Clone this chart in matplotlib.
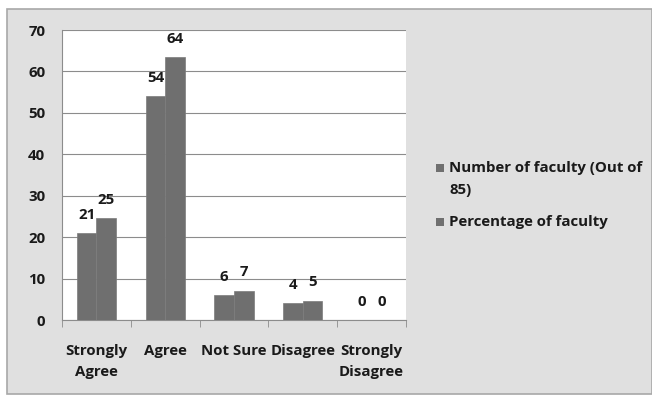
import matplotlib.pyplot as plt
import matplotlib.patches as mpatches
import numpy as np

categories = ['Strongly\nAgree', 'Agree', 'Not Sure', 'Disagree', 'Strongly\nDisagree']
faculty_count = [21, 54, 6, 4, 0]
faculty_pct = [24.7, 63.5, 7.1, 4.7, 0]
series_names = ['Number of faculty (Out of\n85)', 'Percentage of faculty']

plt.rcParams['font.family'] = ['Open Sans', 'DejaVu Sans']
plt.rcParams['font.weight'] = 'bold'
FS = 10.8

W, H = 652, 397
fig = plt.figure(figsize=(W / 100, H / 100), dpi=100, facecolor='white')

# grey panel behind the chart
panel = mpatches.Rectangle((7 / W, 3 / H), 1 - 7 / W, (H - 12) / H,
                           transform=fig.transFigure, facecolor='#e0e0e0',
                           edgecolor='#a8a8a8', linewidth=1.2, zorder=-5)
fig.patches.append(panel)

ax = fig.add_axes([62 / W, (H - 320) / H, (406 - 62) / W, 290 / H])
ax.set_facecolor('white')

x = np.arange(len(categories))
bw = 0.285
bar_color = '#6f6f6f'
b1 = ax.bar(x - bw / 2, faculty_count, bw, color=bar_color, edgecolor='#7c7c7c',
            linewidth=0.5, zorder=3)
b2 = ax.bar(x + bw / 2, faculty_pct, bw, color=bar_color, edgecolor='#7c7c7c',
            linewidth=0.5, zorder=3)

for bars, vals in [(b1, faculty_count), (b2, faculty_pct)]:
    for rect, v in zip(bars, vals):
        ax.annotate(f'{v:.0f}', (rect.get_x() + rect.get_width() / 2, rect.get_height()),
                    xytext=(0, 8), textcoords='offset points', ha='center', va='bottom',
                    fontsize=FS, fontweight='bold', color='#1a1a1a')

ax.set_ylim(0, 70)
ax.set_yticks(range(0, 71, 10))
ax.set_xlim(-0.5, len(categories) - 0.5)
ax.yaxis.grid(True, color='#8c8c8c', linewidth=0.8, zorder=0)
ax.set_axisbelow(True)

ax.set_xticks(x)
ax.set_xticklabels(categories, fontsize=FS, fontweight='bold', linespacing=1.65)
ax.set_xticks(np.arange(-0.5, len(categories), 1), minor=True)
ax.tick_params(axis='x', which='major', length=0, pad=17)
ax.tick_params(axis='x', which='minor', length=5, color='#8c8c8c')
ax.tick_params(axis='y', length=0, labelsize=FS, pad=12, labelcolor='#1a1a1a')
ax.tick_params(axis='x', labelcolor='#1a1a1a')
for lbl in ax.get_yticklabels():
    lbl.set_fontweight('bold')

for side in ['top', 'right']:
    ax.spines[side].set_visible(False)
ax.spines['left'].set_color('#8c8c8c')
ax.spines['bottom'].set_color('#8c8c8c')

# legend drawn by hand so the swatch sits on the first line of a wrapped label
legend_rows = [168, 222]
for name, ypx in zip(series_names, legend_rows):
    fig.patches.append(mpatches.Rectangle((436 / W, 1 - (ypx + 4) / H), 8 / W, 8 / H,
                                          transform=fig.transFigure,
                                          facecolor=bar_color, edgecolor='none'))
    fig.text(449 / W, 1 - (ypx - 7) / H, name, ha='left', va='top', fontsize=FS,
             fontweight='bold', color='#1a1a1a', linespacing=1.7)

fig.savefig('out.png', dpi=100)
